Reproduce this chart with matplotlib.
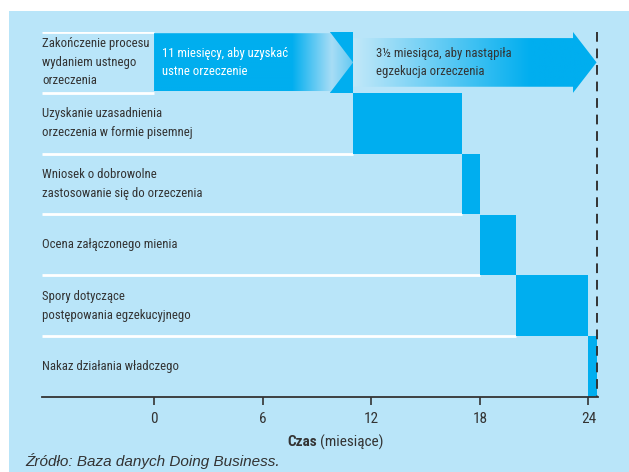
import numpy as np
import matplotlib
matplotlib.use("Agg")
import matplotlib.pyplot as plt
from matplotlib import font_manager
from matplotlib.patches import Polygon, Rectangle

# --- data -------------------------------------------------------------
labels = [
    "Zakończenie procesu\nwydaniem ustnego\norzeczenia",
    "Uzyskanie uzasadnienia\norzeczenia w formie pisemnej",
    "Wniosek o dobrowolne\nzastosowanie się do orzeczenia",
    "Ocena załączonego mienia",
    "Spory dotyczące\npostępowania egzekucyjnego",
    "Nakaz działania władczego",
]
starts = [0, 11, 17, 18, 20, 24]      # months
ends = [11, 17, 18, 20, 24, 24.5]
arrow_spans = [(0, 11), (11, 24.45)]
arrow_texts = ["11 miesięcy, aby uzyskać\nustne orzeczenie",
               "3½ miesiąca, aby nastąpiła\negzekucja orzeczenia"]
total = 24.5
xticks = [0, 6, 12, 18, 24]

# --- fonts ------------------------------------------------------------
names = {f.name for f in font_manager.fontManager.ttflist}
narrow = "DejaVu Sans"
for cand in ["Liberation Sans Narrow", "Roboto Condensed", "Open Sans Condensed"]:
    if cand in names:
        narrow = cand
        break
plt.rcParams["font.family"] = [narrow, "DejaVu Sans"]

BG = "#b9e5f9"
BLUE = "#00aeef"
TXT = "#333333"
FS = 9.2

W, H = 629, 472
fig = plt.figure(figsize=(W / 100, H / 100), dpi=100)
fig.patches.append(Rectangle((9 / W, 0), 1, 1 - 11 / H, transform=fig.transFigure,
                             facecolor=BG, edgecolor="none", zorder=-10))

ax = fig.add_axes([42 / W, 1 - 397 / H, (598 - 42) / W, (397 - 32) / H])
ax.set_facecolor("none")
xmin, xmax = -6.19, 24.53
nrows = len(labels)

# separators (white lines up to the bar in the row above)
ax.hlines(0, xmin, starts[0], color="white", lw=2, zorder=1)
for i in range(1, nrows):
    ax.hlines(i, xmin, starts[i - 1], color="white", lw=2, zorder=1)

# bars
for i in range(1, nrows):
    ax.barh(i, ends[i] - starts[i], left=starts[i], height=1, align="edge",
            color=BLUE, lw=0, zorder=2)


def hex2rgb(h):
    return np.array([int(h[k:k + 2], 16) / 255 for k in (1, 3, 5)])


def grad_arrow(x0, x1, head_x, body_top, body_bot, stops):
    pts = [(x0, body_top), (head_x, body_top), (head_x, 0.0), (x1, 0.5),
           (head_x, 1.0), (head_x, body_bot), (x0, body_bot)]
    poly = Polygon(pts, closed=True, facecolor="none", edgecolor="none")
    ax.add_patch(poly)
    xs = np.linspace(x0, x1, 300)
    sx = [s[0] for s in stops]
    cols = np.array([hex2rgb(s[1]) for s in stops])
    img = np.stack([np.interp(xs, sx, cols[:, c]) for c in range(3)], axis=-1)[None]
    im = ax.imshow(img, extent=[x0, x1, 1.0, 0.0], aspect="auto",
                   interpolation="bilinear", zorder=3)
    im.set_clip_path(poly)


# arrow 1 (solid fading into light head) with solid corners behind the head
a0, a1 = arrow_spans[0]
ax.add_patch(Rectangle((9.72, 0), a1 - 9.72, 1, facecolor=BLUE, lw=0, zorder=2))
grad_arrow(a0, a1, 9.72, 0.02, 0.97,
           [(a0, BLUE), (7.6, BLUE), (9.8, "#a8ddf6"), (a1, "#62c9f2")])
# arrow 2 (light fading into solid)
b0, b1 = arrow_spans[1]
grad_arrow(b0, b1, 23.15, 0.1, 0.9,
           [(b0, "#c2e8f9"), (20.8, BLUE), (b1, BLUE)])

ax.text(a0 + 0.45, 0.5, arrow_texts[0], color="white", fontsize=FS,
        va="center", ha="left", linespacing=1.55, zorder=5)
ax.text(b0 + 1.25, 0.5, arrow_texts[1], color=TXT, fontsize=FS,
        va="center", ha="left", linespacing=1.55, zorder=5)

# row labels
for i, lab in enumerate(labels):
    ax.text(xmin, i + 0.5, lab, color=TXT, fontsize=FS, va="center", ha="left",
            linespacing=1.55, zorder=5)

# dashed total line
ax.vlines(total, 0, nrows, colors=TXT, lw=1.4, linestyles=(0, (5, 3.5)), zorder=4)

ax.set_xlim(xmin, xmax)
ax.set_ylim(nrows, 0)
for s in ["top", "left", "right"]:
    ax.spines[s].set_visible(False)
ax.spines["bottom"].set_color(TXT)
ax.spines["bottom"].set_linewidth(1.3)
ax.set_yticks([])
ax.set_xticks(xticks)
ax.tick_params(axis="x", direction="out", length=6, width=1.2, color=TXT,
               labelsize=11, labelcolor=TXT, pad=5)

fig.text(317 / W, 1 - 442 / H, "Czas", fontsize=11, fontweight="bold",
         color=TXT, ha="right", va="center")
fig.text(320 / W, 1 - 442 / H, "(miesiące)", fontsize=11, color=TXT,
         ha="left", va="center")
fig.text(25 / W, 1 - 461 / H, "Źródło: Baza danych Doing Business.", fontsize=11,
         style="italic", color=TXT, ha="left", va="center",
         family=["Liberation Sans", "DejaVu Sans"])

fig.savefig("out.png", dpi=100, facecolor="white")
